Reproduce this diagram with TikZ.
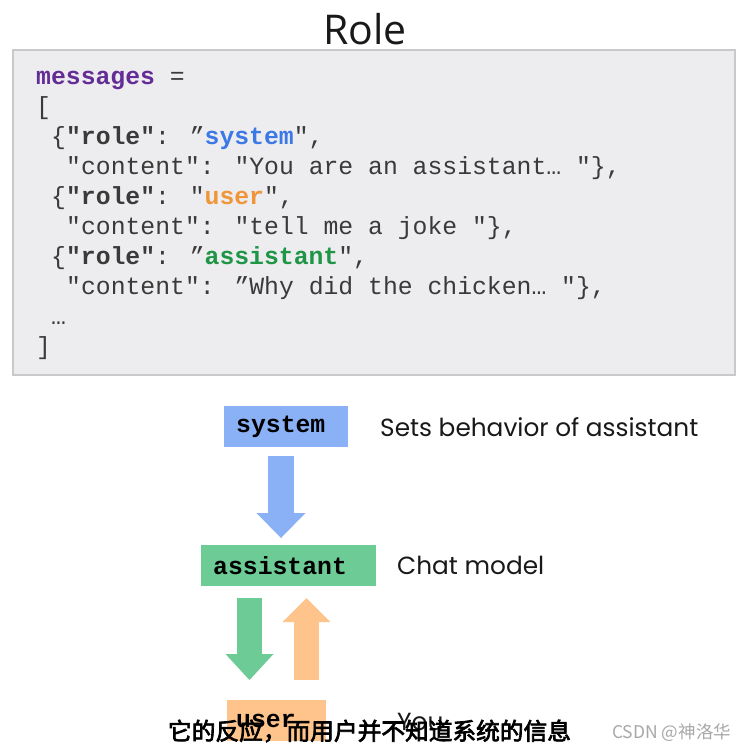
\documentclass[tikz,border=0pt]{standalone}
\usepackage{fontspec}
\usetikzlibrary{arrows.meta}
\setmainfont{Poppins}
\newfontfamily\codefont{Liberation Mono}
\newfontfamily\titlefont{Open Sans}
\newfontfamily\cjkfont[FakeBold=3]{Noto Sans CJK SC}
\newfontfamily\wmfont{Noto Sans CJK SC}
\definecolor{codegrey}{HTML}{3A3A3A}
\definecolor{boxfill}{HTML}{EDEDEF}
\definecolor{boxborder}{HTML}{C9C9CB}
\definecolor{msgpurple}{HTML}{642D96}
\definecolor{sysblue}{HTML}{3C78E6}
\definecolor{userorange}{HTML}{F0963A}
\definecolor{asstgreen}{HTML}{1E9646}
\definecolor{blueshape}{HTML}{8AB0F5}
\definecolor{greenshape}{HTML}{6DCB96}
\definecolor{orangeshape}{HTML}{FEC48C}
\definecolor{wmgrey}{HTML}{A8A8A8}
\tikzset{
  codeline/.style={anchor=base west, inner sep=0pt, text=codegrey,
    font=\codefont\fontsize{24.75}{30}\selectfont},
  rolebox/.style={anchor=north west, minimum height=41pt, inner ysep=0pt,
    inner xsep=12pt, align=left, text=black,
    font=\codefont\bfseries\fontsize{24.75}{30}\selectfont},
  rolelabel/.style={anchor=west, inner sep=0pt, text=black!90,
    font=\fontsize{24.8}{30}\selectfont},
  fatarrow/.style={line width=26pt, -{Triangle[width=49pt,length=25pt,line width=0pt]}},
}
\begin{document}
\begin{tikzpicture}[x=1pt,y=-1pt]
\useasboundingbox (0,0) rectangle (751,750);
\fill[white] (0,0) rectangle (751,750);
% title
\node[anchor=base, inner sep=0pt, font=\titlefont\fontsize{41}{44}\selectfont, text=black!90] (title) at (365,44) {Role};
% code panel
\node[draw=boxborder, line width=1.5pt, fill=boxfill, anchor=north west, minimum width=722pt, minimum height=325pt, inner sep=0pt] (panel) at (12,49) {};
\node[codeline] (l0) at (36,84) {\textbf{\color{msgpurple}messages} =};
\node[codeline] (l1) at (36,114) {[};
\node[codeline] (l2) at (51,144) {\{\textbf{"role"}: ”\textbf{\color{sysblue}system}",};
\node[codeline] (l3) at (66,174) {"content": "You are an assistant… "\},};
\node[codeline] (l4) at (51,204) {\{\textbf{"role"}: "\textbf{\color{userorange}user}",};
\node[codeline] (l5) at (66,234) {"content": "tell me a joke "\},};
\node[codeline] (l6) at (51,264) {\{\textbf{"role"}: ”\textbf{\color{asstgreen}assistant}",};
\node[codeline] (l7) at (66,294) {"content": ”Why did the chicken… "\},};
\node[codeline] (l8) at (51,324) {…};
\node[codeline] (l9) at (36,354) {]};
% role boxes
\node[rolebox, fill=blueshape, text width=100pt] (sys) at (224,406) {system};
\node[rolebox, fill=greenshape, text width=151pt] (asst) at (201,545) {assistant};
\node[rolebox, fill=orangeshape, inner xsep=9pt, text width=81pt] (usr) at (227,700) {user};
% labels
\node[rolelabel] (sysl) at (380,427) {Sets behavior of assistant};
\node[rolelabel] (asstl) at (397,565) {Chat model};
\node[rolelabel] (usrl) at (397,722) {You};
% arrows
\coordinate (b1) at (281,456);
\coordinate (b2) at (281,538);
\coordinate (g1) at (249.5,598);
\coordinate (g2) at (249.5,680);
\coordinate (o1) at (306.5,680);
\coordinate (o2) at (306.5,598);
\draw[fatarrow, blueshape] (b1) -- (b2);
\draw[fatarrow, greenshape, line width=25pt, -{Triangle[width=48pt,length=26pt,line width=0pt]}] (g1) -- (g2);
\draw[fatarrow, orangeshape, line width=25pt, -{Triangle[width=48pt,length=24pt,line width=0pt]}] (o1) -- (o2);
% subtitle and watermark
\node[inner sep=0pt, font=\cjkfont\fontsize{23.7}{26}\selectfont, text=black] (sub) at (369.5,731) {它的反应，而用户并不知道系统的信息};
\node[anchor=west, inner sep=0pt, font=\wmfont\fontsize{17.5}{20}\selectfont, text=wmgrey] (wm) at (612,733) {CSDN @神洛华};
\end{tikzpicture}
\end{document}
